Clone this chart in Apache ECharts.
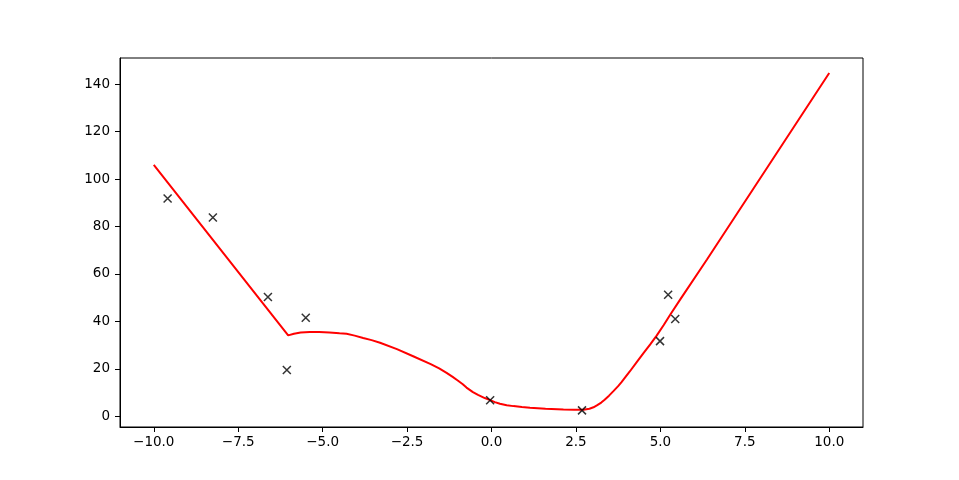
<!DOCTYPE html>
<html>
<head>
<meta charset="utf-8">
<script src="https://cdn.jsdelivr.net/npm/echarts@6/dist/echarts.min.js"></script>
<style>html,body{margin:0;padding:0;background:#fff}#c{width:959px;height:480px}</style>
</head>
<body>
<div id="c"></div>
<script>
// scattered observations
var obsX = [-9.59, -8.25, -6.62, -6.06, -5.50, -0.04, 2.68, 4.99, 5.23, 5.44];
var obsY = [91.8, 83.8, 50.3, 19.5, 41.5, 6.8, 2.5, 31.7, 51.2, 41.0];
// fitted curve
var fitX = [-10.0, -6.02, -5.85, -5.65, -5.38, -5.10, -4.80, -4.50, -4.29, -4.05, -3.80, -3.55, -3.30, -2.80, -2.32, -1.80, -1.55, -1.33, -1.15, -1.00, -0.85, -0.74, -0.55, -0.40, -0.20, -0.04, 0.10, 0.25, 0.45, 0.65, 0.90, 1.14, 1.60, 2.13, 2.45, 2.72, 2.90, 3.02, 3.12, 3.25, 3.35, 3.48, 3.61, 3.75, 3.85, 4.10, 4.30, 4.50, 4.70, 4.89, 5.10, 5.30, 5.59, 6.38, 10.0];
var fitY = [106.0, 34.1, 34.8, 35.3, 35.5, 35.5, 35.3, 35.0, 34.8, 34.0, 33.0, 32.1, 31.0, 28.3, 25.3, 22.0, 20.2, 18.3, 16.6, 15.1, 13.5, 12.1, 10.2, 9.0, 7.7, 6.8, 6.0, 5.3, 4.7, 4.3, 3.9, 3.6, 3.2, 2.9, 2.8, 2.8, 3.2, 3.8, 4.6, 5.8, 7.0, 8.7, 10.6, 12.7, 14.4, 19.0, 22.8, 26.6, 30.3, 34.0, 38.5, 43.0, 49.3, 66.1, 144.7];
var xTicks = [-10, -7.5, -5, -2.5, 0, 2.5, 5, 7.5, 10];
var yTicks = [0, 20, 40, 60, 80, 100, 120, 140];

function zip(a, b) { return a.map(function (v, i) { return [v, b[i]]; }); }
var font = 'DejaVu Sans';
var chart = echarts.init(document.getElementById('c'));
chart.setOption({
  animation: false,
  backgroundColor: '#fff',
  grid: { left: 120, right: 96, top: 58, bottom: 53, show: true, borderColor: '#000', borderWidth: 1, backgroundColor: 'transparent' },
  xAxis: {
    type: 'value', min: -11, max: 11,
    splitLine: { show: false },
    axisLine: { show: true, onZero: false, lineStyle: { color: '#000', width: 1 } },
    axisTick: { show: true, inside: false, length: 5, customValues: xTicks, lineStyle: { color: '#000' } },
    axisLabel: { customValues: xTicks, margin: 8, color: '#000', fontFamily: font, fontSize: 13.5,
      formatter: function (v) { return v.toFixed(1).replace('-', '\u2212'); } }
  },
  yAxis: {
    type: 'value', min: -4.5, max: 151.0,
    splitLine: { show: false },
    axisLine: { show: true, onZero: false, lineStyle: { color: '#000', width: 1 } },
    axisTick: { show: true, inside: false, length: 5, customValues: yTicks, lineStyle: { color: '#000' } },
    axisLabel: { customValues: yTicks, margin: 10, color: '#000', fontFamily: font, fontSize: 13.5,
      formatter: function (v) { return String(Math.round(v)); } }
  },
  series: [
    { type: 'line', data: zip(fitX, fitY), showSymbol: false, smooth: false,
      lineStyle: { color: '#ff0000', width: 2 }, z: 2 },
    { type: 'scatter', data: zip(obsX, obsY), symbol: 'path://M0,0L10,10M10,0L0,10', symbolSize: 8,
      itemStyle: { color: 'none', borderColor: '#000', borderWidth: 1.5 }, z: 3 }
  ]
});
</script>
</body>
</html>
